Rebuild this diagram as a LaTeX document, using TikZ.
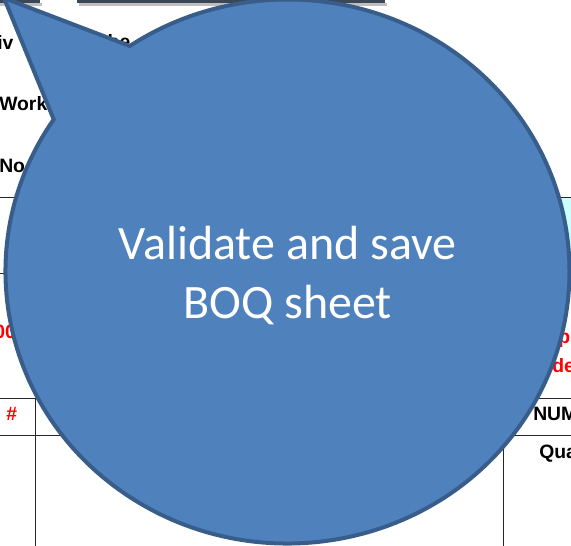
\documentclass[tikz,border=0pt]{standalone}
\usepackage{fontspec}
\setmainfont{Liberation Sans}
\newfontfamily\calloutfont{Carlito}
\usepackage{tikz}
\usetikzlibrary{positioning, shapes.callouts}
\definecolor{calloutfill}{HTML}{4F81BD}
\definecolor{calloutline}{HTML}{385D8A}
\definecolor{headercyan}{HTML}{CCFFFF}
\definecolor{buttonedge}{HTML}{3B4657}

\begin{document}
\begin{tikzpicture}[x=0.75pt, y=-0.75pt,
  sheettext/.style={anchor=base west, inner sep=0pt, font=\fontsize{14.5}{17}\selectfont\bfseries},
  redtext/.style={sheettext, text=red},
  gridline/.style={draw=black!85, line width=0.75pt}]
\useasboundingbox (0,0) rectangle (571,546);

% buttons cut off at the top
\fill[black!25] (0,3) rectangle (42,6);
\fill[buttonedge] (0,0) rectangle (40,3);
\fill[black!25] (79,3) rectangle (387,6);
\fill[buttonedge] (77,0) rectangle (385,3);

% the sheet behind the callout
\fill[headercyan] (480,197) rectangle (571,273);
\draw[gridline] (0,197) -- (571,197);
\draw[gridline] (0,273) -- (571,273);
\draw[gridline] (0,398) -- (571,398);
\draw[gridline] (0,435) -- (571,435);
\draw[gridline] (35,398) -- (35,546);
\draw[gridline] (503,435) -- (503,546);

\node[sheettext] (iv) at (-3,49) {iv};
\node[sheettext] (the) at (101,48) {the};
\node[sheettext] (work) at (-1,110) {Work};
\node[sheettext] (no) at (-1,172) {No};
\node[redtext] (zero) at (-6,338) {00};
\node[redtext] (pi) at (558,343) {pi};
\node[redtext, below left=21.75pt and 4.5pt of pi.base west, anchor=base west] (de) {de};
\node[redtext] (hash) at (6,420) {\#};
\node[sheettext] (num) at (533,420) {NUM};
\node[sheettext] (qua) at (539,458) {Qua};

% the callout
\node[ellipse callout, draw=calloutline, fill=calloutfill, line width=3pt,
  minimum width=423pt, minimum height=408pt, inner sep=0pt,
  callout absolute pointer={(4,-2)}, callout pointer arc=22,
  text=white, align=center, font=\calloutfont\fontsize{36}{44}\selectfont]
  (bubble) at (287.5,271.5) {\rule{0pt}{31pt}Validate and save\\BOQ sheet};

\end{tikzpicture}
\end{document}
